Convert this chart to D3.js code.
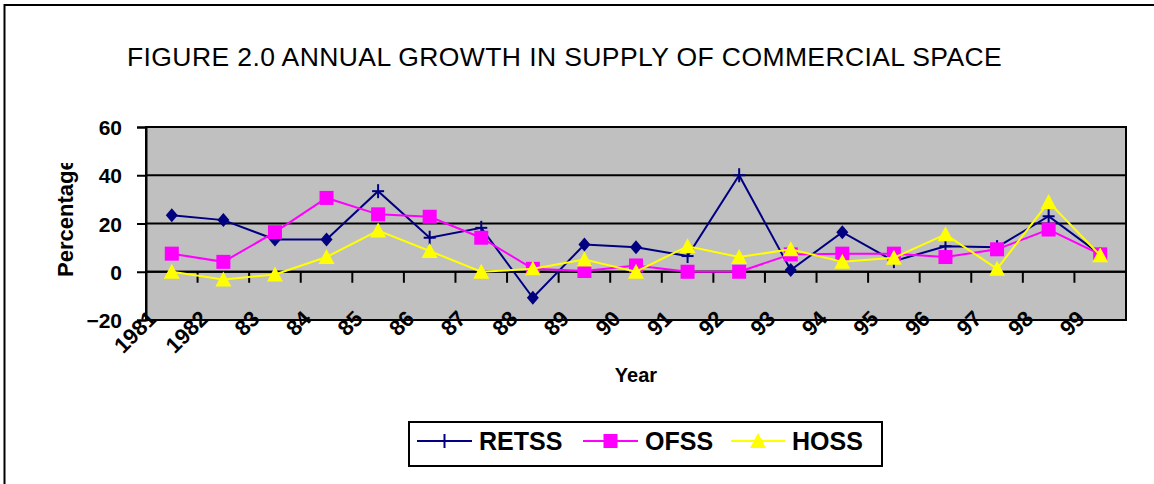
<!DOCTYPE html>
<html>
<head>
<meta charset="utf-8">
<script src="https://cdn.jsdelivr.net/npm/d3@7"></script>
<style>
html, body { margin: 0; padding: 0; background: #fff; }
svg { display: block; font-family: "Liberation Sans", Arial, sans-serif; }
</style>
</head>
<body>
<svg id="chart" width="1154" height="484"></svg>
<script>
const titleText = "FIGURE 2.0 ANNUAL GROWTH IN SUPPLY OF COMMERCIAL SPACE";
const years = ["1981","1982","83","84","85","86","87","88","89","90","91","92","93","94","95","96","97","98","99"];
const retss = [23.4,21.4,13.4,13.4,33.4,14.1,18.2,-10.8,11.3,10.2,6.5,40,0.7,16.4,4.4,10.6,10.2,23,7.2];
const ofss  = [7.5,4.1,16.4,30.6,23.8,22.8,14.1,1.2,0.3,2.6,0,0,7.2,7.5,7.5,6.1,9.3,17.5,7.2];
const hoss  = [0,-3.2,-1.1,6.1,17.1,8.6,0,1.2,5.1,0,10.6,6.1,9.3,4.1,5.8,15.5,1.2,28.9,6.8];
const yTicks = [-20,0,20,40,60];
const retssDiamondYears = ["1981","1982","83","84","88","89","90","93","94"];
const seriesNames = ["RETSS","OFSS","HOSS"];

const svg = d3.select("#chart");
const L = 146, R = 1126, T = 127, B = 320;
const x = d3.scaleBand().domain(years).range([L, R]).padding(0);
const cx = d => x(d) + x.bandwidth() / 2;
const y = d3.scaleLinear().domain([-20, 60]).range([B, T]);

// outer border
svg.append("rect").attr("x", 4.5).attr("y", 5).attr("width", 1200).attr("height", 600)
  .attr("fill", "none").attr("stroke", "#000").attr("stroke-width", 2);

// title
svg.append("text").attr("x", 127).attr("y", 66).attr("font-size", 26.5)
  .attr("letter-spacing", 0.4).attr("fill", "#000").text(titleText);

// plot background
svg.append("rect").attr("x", L).attr("y", T).attr("width", R - L).attr("height", B - T)
  .attr("fill", "#c0c0c0");

// gridlines
svg.append("g").selectAll("line").data(yTicks.filter(v => v > -20 && v < 60)).join("line")
  .attr("x1", L).attr("x2", R).attr("y1", d => y(d)).attr("y2", d => y(d))
  .attr("stroke", "#000").attr("stroke-width", 2);

// plot border
svg.append("rect").attr("x", L).attr("y", T).attr("width", R - L).attr("height", B - T)
  .attr("fill", "none").attr("stroke", "#000").attr("stroke-width", 2);

// y axis
const yAxis = svg.append("g").attr("transform", `translate(${L},0)`)
  .call(d3.axisLeft(y).tickValues(yTicks).tickSize(9).tickPadding(15).tickFormat(d3.format("d")));
yAxis.select(".domain").attr("stroke", "#000").attr("stroke-width", 2);
yAxis.selectAll(".tick line").attr("stroke", "#000").attr("stroke-width", 2);
yAxis.selectAll(".tick text").attr("font-size", 21).attr("font-weight", "bold")
  .attr("fill", "#000").attr("font-family", "Liberation Sans, Arial, sans-serif").attr("dy", "0.36em");

// x axis line at 0 with ticks between categories
const x0 = y(0);
const boundaries = years.map(d => x(d)).concat([R]);
svg.append("g").selectAll("line").data(boundaries).join("line")
  .attr("x1", d => d).attr("x2", d => d).attr("y1", x0).attr("y2", x0 + 11)
  .attr("stroke", "#000").attr("stroke-width", 2);
svg.append("line").attr("x1", L).attr("x2", R).attr("y1", x0).attr("y2", x0)
  .attr("stroke", "#000").attr("stroke-width", 2);

// x tick labels
svg.append("g").selectAll("text").data(years).join("text")
  .attr("transform", d => `translate(${cx(d) - 14},${320}) rotate(-45)`)
  .attr("text-anchor", "end").attr("font-size", 22).attr("font-weight", "bold")
  .attr("fill", "#000").text(d => d);

// axis titles
svg.append("text").attr("x", (L + R) / 2).attr("y", 382).attr("text-anchor", "middle")
  .attr("font-size", 20).attr("font-weight", "bold").text("Year");
svg.append("clipPath").attr("id", "ylabclip").append("rect")
  .attr("x", 0).attr("y", 163).attr("width", 140).attr("height", 200);
svg.append("g").attr("clip-path", "url(#ylabclip)").append("text")
  .attr("transform", "translate(73,277) rotate(-90)").attr("text-anchor", "start")
  .attr("font-size", 22).attr("font-weight", "bold").text("Percentage");

// marker helpers
function plus(g, px, py, color) {
  g.append("line").attr("x1", px).attr("x2", px).attr("y1", py - 7).attr("y2", py + 7)
    .attr("stroke", color).attr("stroke-width", 2);
  g.append("line").attr("x1", px - 6).attr("x2", px + 6).attr("y1", py).attr("y2", py)
    .attr("stroke", color).attr("stroke-width", 2);
}
function diamond(g, px, py, color) {
  g.append("path").attr("d", `M${px},${py - 7}L${px + 6},${py}L${px},${py + 7}L${px - 6},${py}Z`)
    .attr("fill", color);
}
function square(g, px, py, color) {
  g.append("rect").attr("x", px - 7).attr("y", py - 7).attr("width", 14).attr("height", 14)
    .attr("fill", color);
}
function triangle(g, px, py, color) {
  g.append("path").attr("d", `M${px},${py - 8}L${px + 8},${py + 7}L${px - 8},${py + 7}Z`)
    .attr("fill", color);
}

const line = d3.line().x((v, i) => cx(years[i])).y(v => y(v));
const series = [
  { name: seriesNames[0], values: retss, color: "#000080", marker: (g, d, px, py) => retssDiamondYears.includes(d) ? diamond(g, px, py, "#000080") : plus(g, px, py, "#000080") },
  { name: seriesNames[1], values: ofss, color: "#ff00ff", marker: (g, d, px, py) => square(g, px, py, "#ff00ff") },
  { name: seriesNames[2], values: hoss, color: "#ffff00", marker: (g, d, px, py) => triangle(g, px, py, "#ffff00") }
];
series.forEach(s => {
  const g = svg.append("g");
  g.append("path").attr("d", line(s.values)).attr("fill", "none")
    .attr("stroke", s.color).attr("stroke-width", 2).attr("stroke-linejoin", "miter");
  s.values.forEach((v, i) => s.marker(g, years[i], cx(years[i]), y(v)));
});

// legend
const lg = svg.append("g");
lg.append("rect").attr("x", 409).attr("y", 422).attr("width", 473).attr("height", 44)
  .attr("fill", "#fff").attr("stroke", "#000").attr("stroke-width", 2);
const legendItems = [
  { x1: 417, x2: 472, tx: 479, color: "#000080", m: (g, px, py) => plus(g, px, py, "#000080") },
  { x1: 583, x2: 638, tx: 645, color: "#ff00ff", m: (g, px, py) => square(g, px, py, "#ff00ff") },
  { x1: 731, x2: 785, tx: 792, color: "#ffff00", m: (g, px, py) => triangle(g, px, py, "#ffff00") }
];
legendItems.forEach((it, i) => {
  lg.append("line").attr("x1", it.x1).attr("x2", it.x2).attr("y1", 441).attr("y2", 441)
    .attr("stroke", it.color).attr("stroke-width", 2);
  it.m(lg, (it.x1 + it.x2) / 2, 441);
  lg.append("text").attr("x", it.tx).attr("y", 450).attr("font-size", 25).attr("font-weight", "bold")
    .attr("fill", "#000").text(seriesNames[i]);
});
</script>
</body>
</html>
